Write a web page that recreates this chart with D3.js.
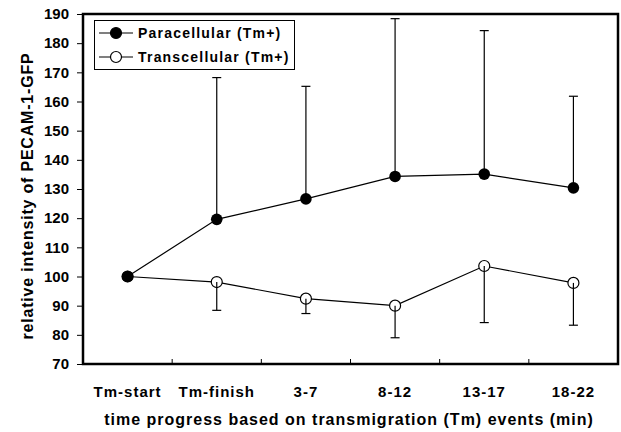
<!DOCTYPE html>
<html>
<head>
<meta charset="utf-8">
<script src="https://cdn.jsdelivr.net/npm/d3@7"></script>
<style>
  body { margin: 0; background: #fff; }
  text { font-family: "Liberation Sans", Arial, sans-serif; font-weight: bold; }
</style>
</head>
<body>
<svg id="chart" width="621" height="432"></svg>
<script>
const categories = ['Tm-start', 'Tm-finish', '3-7', '8-12', '13-17', '18-22']
const paraValues = [100, 119.6, 126.6, 134.3, 135.1, 130.4]
const paraUpper = [null, 168.2, 165.2, 188.4, 184.3, 161.8]
const transValues = [100, 98.1, 92.4, 90.0, 103.6, 97.8]
const transLower = [null, 88.4, 87.3, 79.0, 84.2, 83.3]
const yTicks = [70, 80, 90, 100, 110, 120, 130, 140, 150, 160, 170, 180, 190]
const seriesNames = ['Paracellular (Tm+)', 'Transcellular (Tm+)']

const margin = {top: 14, right: 3, bottom: 68, left: 83}
const width = 621, height = 432
const svg = d3.select('#chart')

const x = d3.scaleBand()
  .domain(categories)
  .range([margin.left, width - margin.right])
const y = d3.scaleLinear()
  .domain([70, 190])
  .range([height - margin.bottom, margin.top])
const cx = c => x(c) + x.bandwidth()/2

// y axis ticks + labels
const yAxis = svg.append('g')
  .attr('transform', `translate(${margin.left},0)`)
  .call(d3.axisLeft(y).tickValues(yTicks).tickSize(6).tickPadding(8))
yAxis.select('.domain').remove()
yAxis.selectAll('line').attr('stroke', '#000').attr('stroke-width', 1)
yAxis.selectAll('text').style('font-size', '15px').attr('fill', '#000')

// x axis: inward ticks at category boundaries
const bounds = categories.slice(1).map(c => x(c))
svg.append('g').selectAll('line')
  .data(bounds)
  .enter().append('line')
  .attr('x1', d => d).attr('x2', d => d)
  .attr('y1', y(70)).attr('y2', y(70) - 5)
  .attr('stroke', '#000')

svg.append('g').selectAll('text')
  .data(categories)
  .enter().append('text')
  .attr('x', cx)
  .attr('y', 397)
  .attr('text-anchor', 'middle')
  .style('font-size', '15px')
  .style('letter-spacing', '1px')
  .text(d => d)

// frame
svg.append('rect')
  .attr('x', margin.left).attr('y', margin.top)
  .attr('width', width - margin.right - margin.left)
  .attr('height', y(70) - margin.top)
  .attr('fill', 'none')
  .attr('stroke', '#000')
  .attr('stroke-width', 2.5)

// error bars
function errBars(vals, ends) {
  const g = svg.append('g').attr('stroke', '#000').attr('stroke-width', 1.2)
  categories.forEach((c, i) => {
    if (ends[i] == null) return
    g.append('line')
      .attr('x1', cx(c)).attr('x2', cx(c))
      .attr('y1', y(vals[i])).attr('y2', y(ends[i]))
    g.append('line')
      .attr('x1', cx(c) - 4.5).attr('x2', cx(c) + 4.5)
      .attr('y1', y(ends[i])).attr('y2', y(ends[i]))
  })
}

const line = d3.line()
  .x((d, i) => cx(categories[i]))
  .y(d => y(d))

// transcellular
svg.append('path')
  .datum(transValues)
  .attr('d', line)
  .attr('fill', 'none')
  .attr('stroke', '#000')
  .attr('stroke-width', 1.2)
svg.append('g').selectAll('circle')
  .data(transValues)
  .enter().append('circle')
  .attr('cx', (d, i) => cx(categories[i]))
  .attr('cy', d => y(d))
  .attr('r', 5.5)
  .attr('fill', '#fff')
  .attr('stroke', '#000')
  .attr('stroke-width', 1.2)
errBars(transValues, transLower)

// paracellular
errBars(paraValues, paraUpper)
svg.append('path')
  .datum(paraValues)
  .attr('d', line)
  .attr('fill', 'none')
  .attr('stroke', '#000')
  .attr('stroke-width', 1.2)
svg.append('g').selectAll('circle')
  .data(paraValues)
  .enter().append('circle')
  .attr('cx', (d, i) => cx(categories[i]))
  .attr('cy', d => y(d))
  .attr('r', 5.8)
  .attr('fill', '#000')

// legend
const lg = svg.append('g')
lg.append('rect')
  .attr('x', 94.5).attr('y', 20.5)
  .attr('width', 200).attr('height', 49)
  .attr('fill', '#fff')
  .attr('stroke', '#000')
  .attr('stroke-width', 1)
seriesNames.forEach((name, i) => {
  const ly = 33 + i*24
  lg.append('line')
    .attr('x1', 99).attr('x2', 133)
    .attr('y1', ly).attr('y2', ly)
    .attr('stroke', '#000').attr('stroke-width', 1.2)
  lg.append('circle')
    .attr('cx', 116).attr('cy', ly).attr('r', 5.5)
    .attr('fill', i === 0 ? '#000' : '#fff')
    .attr('stroke', '#000').attr('stroke-width', 1.2)
  lg.append('text')
    .attr('x', 138).attr('y', ly + 5)
    .style('font-size', '14px')
    .style('letter-spacing', '1.2px')
    .text(name)
})

// axis titles
svg.append('text')
  .attr('x', 349).attr('y', 425)
  .attr('text-anchor', 'middle')
  .style('font-size', '16px')
  .style('letter-spacing', '1px')
  .text('time progress based on transmigration (Tm) events (min)')
svg.append('text')
  .attr('transform', 'translate(33,196) rotate(-90)')
  .attr('text-anchor', 'middle')
  .style('font-size', '16px')
  .style('letter-spacing', '0.8px')
  .text('relative intensity of PECAM-1-GFP')
</script>
</body>
</html>
